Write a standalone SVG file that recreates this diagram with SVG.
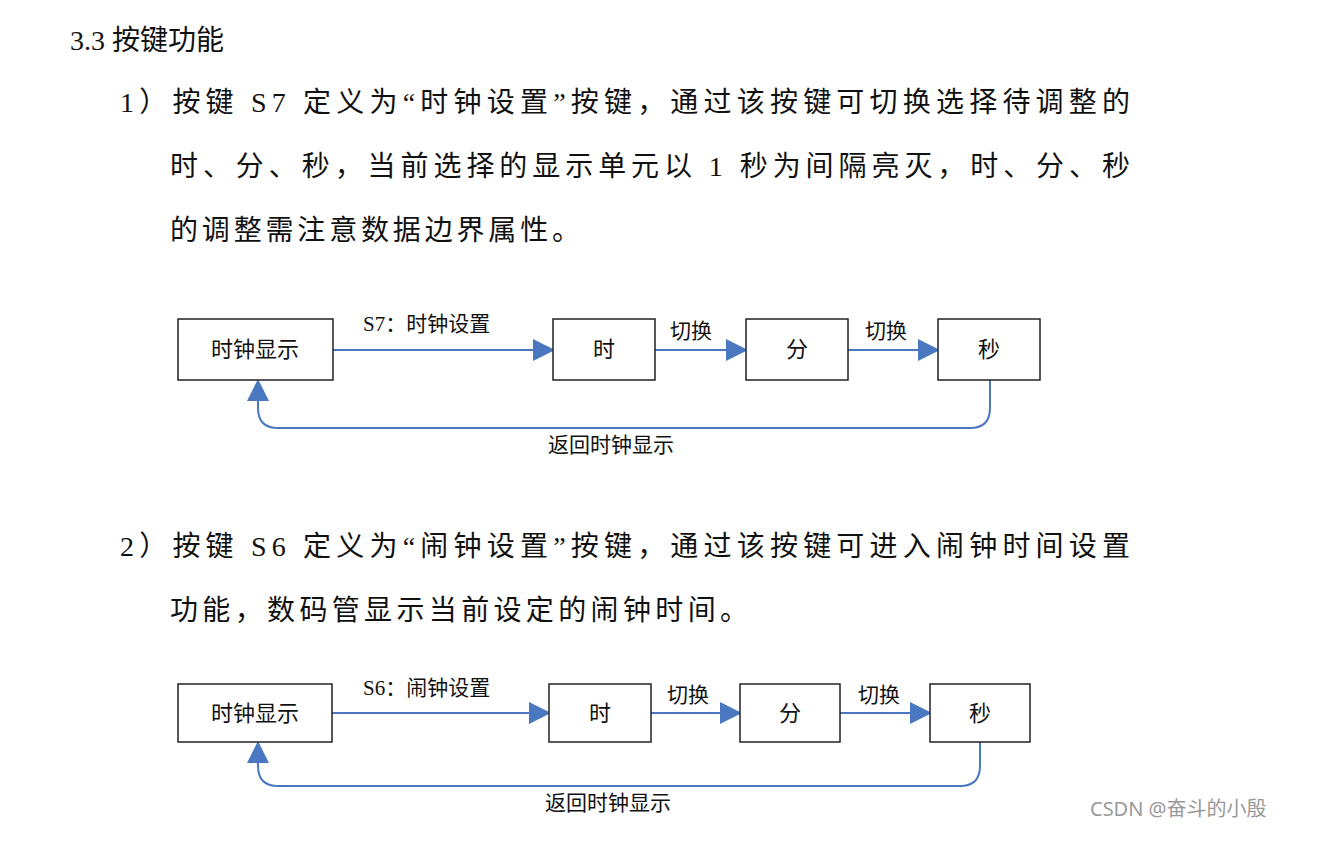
<svg xmlns="http://www.w3.org/2000/svg" width="1339" height="846" viewBox="0 0 1339 846">
<style>
text{font-family:"Liberation Serif","Noto Sans CJK SC",serif;fill:#111}
.p{font-size:28px}
.b{font-size:22px;text-anchor:middle}
.l{font-size:21px}
rect{fill:#fff;stroke:#222;stroke-width:1.5}
.c{fill:none;stroke:#4a78c0;stroke-width:2}
</style>
<defs><marker id="a" markerWidth="10" markerHeight="10" refX="9" refY="5" orient="auto" markerUnits="userSpaceOnUse" viewBox="0 0 10 10"><path d="M0,0L10,5L0,10z" fill="#4a78c0"/></marker>
<marker id="m" markerWidth="22" markerHeight="22" refX="20" refY="11" orient="auto" markerUnits="userSpaceOnUse" viewBox="0 0 22 22"><path d="M0,0L22,11L0,22z" fill="#4a78c0"/></marker></defs>
<rect width="1339" height="846" fill="#fff" style="stroke:none"/>
<text class="p" x="70" y="50">3.3 按键功能</text>
<text class="p" x="120" y="112" textLength="1010">1）按键 S7 定义为“时钟设置”按键，通过该按键可切换选择待调整的</text>
<text class="p" x="170" y="176" textLength="960">时、分、秒，当前选择的显示单元以 1 秒为间隔亮灭，时、分、秒</text>
<text class="p" x="170" y="240" textLength="410">的调整需注意数据边界属性。</text>
<text class="p" x="120" y="556" textLength="1010">2）按键 S6 定义为“闹钟设置”按键，通过该按键可进入闹钟时间设置</text>
<text class="p" x="170" y="620" textLength="578">功能，数码管显示当前设定的闹钟时间。</text>
<g id="connectors1">
<path class="c" d="M333,350H553" marker-end="url(#m)"/>
<path class="c" d="M655,350H746" marker-end="url(#m)"/>
<path class="c" d="M848,350H938" marker-end="url(#m)"/>
<path class="c" d="M990,380V408Q990,428 970,428H278Q258,428 258,408V381" marker-end="url(#m)"/>
<text class="l" x="363" y="331">S7：时钟设置</text>
<text class="l" x="670" y="338">切换</text>
<text class="l" x="865" y="338">切换</text>
<text class="l" x="548" y="452">返回时钟显示</text>
</g>
<g id="n1a"><rect x="178" y="319" width="155" height="61"/><text class="b" x="255" y="357">时钟显示</text></g>
<g id="n1b"><rect x="553" y="319" width="102" height="61"/><text class="b" x="604" y="357">时</text></g>
<g id="n1c"><rect x="746" y="319" width="102" height="61"/><text class="b" x="797" y="357">分</text></g>
<g id="n1d"><rect x="938" y="319" width="102" height="61"/><text class="b" x="989" y="357">秒</text></g>
<g id="connectors2">
<path class="c" d="M332,713H549" marker-end="url(#m)"/>
<path class="c" d="M651,713H740" marker-end="url(#m)"/>
<path class="c" d="M840,713H930" marker-end="url(#m)"/>
<path class="c" d="M980,742V766Q980,786 960,786H278Q258,786 258,766V743" marker-end="url(#m)"/>
<text class="l" x="363" y="695">S6：闹钟设置</text>
<text class="l" x="667" y="702">切换</text>
<text class="l" x="858" y="702">切换</text>
<text class="l" x="545" y="810">返回时钟显示</text>
</g>
<g id="n2a"><rect x="178" y="684" width="154" height="58"/><text class="b" x="255" y="721">时钟显示</text></g>
<g id="n2b"><rect x="549" y="684" width="102" height="58"/><text class="b" x="600" y="721">时</text></g>
<g id="n2c"><rect x="740" y="684" width="100" height="58"/><text class="b" x="790" y="721">分</text></g>
<g id="n2d"><rect x="930" y="684" width="100" height="58"/><text class="b" x="980" y="721">秒</text></g>
<text x="1090" y="816" style="font-family:'Noto Sans','Noto Sans CJK SC',sans-serif;font-size:20px;fill:#999">CSDN @奋斗的小殷</text>
</svg>
